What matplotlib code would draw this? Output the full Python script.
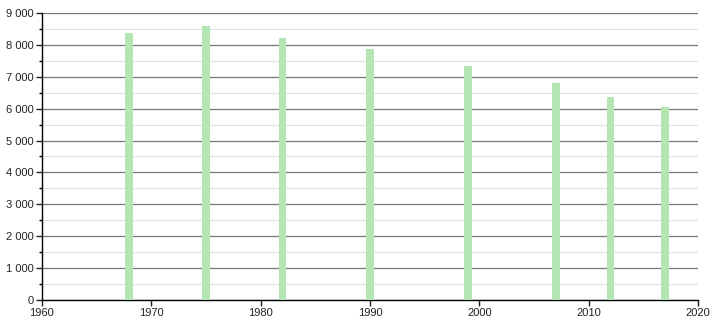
import matplotlib
matplotlib.use("Agg")
import matplotlib.pyplot as plt
from matplotlib.ticker import MultipleLocator, FuncFormatter

years = [1968, 1975, 1982, 1990, 1999, 2007, 2012, 2017]
population = [8373, 8592, 8216, 7871, 7338, 6805, 6366, 6052]

bar_color = "#b3e6b3"

plt.rcParams["font.family"] = ["Liberation Sans", "DejaVu Sans"]

fig = plt.figure(figsize=(7.1, 3.2), dpi=100, facecolor="w")
ax = fig.add_axes([0.059, 0.0625, 0.924, 0.897])

ax.bar(years, population, width=0.72, color=bar_color, zorder=3)

ax.set_xlim(1960, 2020)
ax.set_ylim(0, 9000)
ax.xaxis.set_major_locator(MultipleLocator(10))
ax.yaxis.set_major_locator(MultipleLocator(1000))
ax.yaxis.set_minor_locator(MultipleLocator(500))
ax.yaxis.set_major_formatter(FuncFormatter(lambda v, p: f"{int(v):,}".replace(",", " ")))

ax.grid(axis="y", which="major", color="#777777", linewidth=0.9, zorder=1)
ax.grid(axis="y", which="minor", color="#e2e2e2", linewidth=0.9, zorder=1)

for s in ["top", "right"]:
    ax.spines[s].set_visible(False)
ax.spines["left"].set_linewidth(1.0)
ax.spines["bottom"].set_linewidth(1.0)

ax.tick_params(axis="both", which="major", labelsize=8, length=4, width=1, colors="#222222", pad=2)
ax.tick_params(axis="y", which="minor", length=2, width=1)

fig.savefig("out.png", dpi=100)
